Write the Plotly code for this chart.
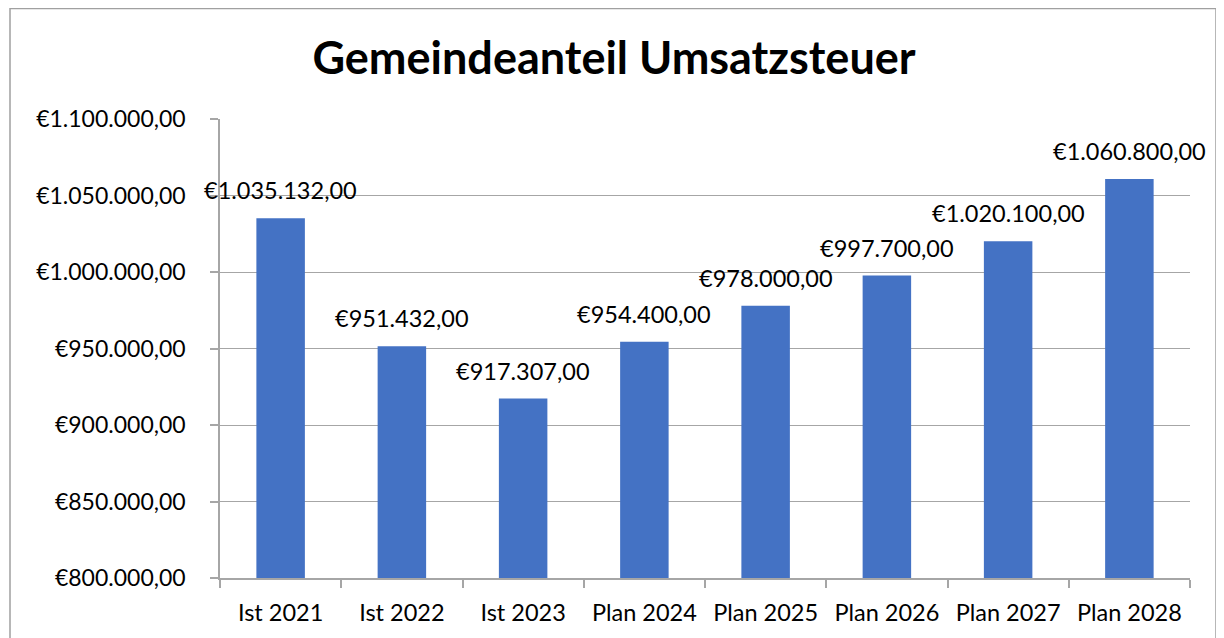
import plotly.graph_objects as go

categories = ["Ist 2021", "Ist 2022", "Ist 2023", "Plan 2024", "Plan 2025", "Plan 2026", "Plan 2027", "Plan 2028"]
values = [1035132, 951432, 917307, 954400, 978000, 997700, 1020100, 1060800]
y_ticks = [800000, 850000, 900000, 950000, 1000000, 1050000, 1100000]


def de_eur(v):
    s = f"{v:,.2f}".replace(",", "X").replace(".", ",").replace("X", ".")
    return "€" + s


FONT = "Lato"
BLUE = "#4472C4"
GRID = "#A6A6A6"

# page is offset by the 8px body margin
W, H = 1224, 638
L, R, T, B = 212, 42, 111, 68
pw = W - L - R
ph = H - T - B

fig = go.Figure(go.Bar(
    x=categories, y=values,
    marker=dict(color=BLUE, line=dict(width=0)),
    width=0.4,
    hoverinfo="x+y",
))

annotations = [
    dict(x=c, y=v, xref="x", yref="y", text=de_eur(v), showarrow=False,
         yanchor="bottom", xanchor="center", yshift=12,
         font=dict(family=FONT, size=23.5, color="#000000"))
    for c, v in zip(categories, values)
]

fig.update_layout(
    width=W, height=H,
    margin=dict(l=L, r=R, t=T, b=B),
    paper_bgcolor="white", plot_bgcolor="white",
    showlegend=False,
    title=dict(text="<b>Gemeindeanteil Umsatzsteuer</b>", x=(614 - 8) / W, xanchor="center",
               y=1 - (58 - 8) / H, yanchor="middle", yref="container",
               font=dict(family=FONT, size=45, color="#000000")),
    font=dict(family=FONT, size=23, color="#000000"),
    xaxis=dict(range=[-0.5, len(categories) - 0.5], autorange=False,
               showline=True, linecolor=GRID, linewidth=1.5, ticks="outside", tickson="boundaries",
               ticklen=8, tickcolor=GRID, tickwidth=1.5, showgrid=False, ticklabelstandoff=13,
               tickfont=dict(family=FONT, size=23.5, color="#000000")),
    yaxis=dict(range=[800000, 1100000], autorange=False, tickvals=y_ticks,
               ticktext=[de_eur(v) for v in y_ticks],
               showline=True, linecolor=GRID, linewidth=1.5, ticks="outside", ticklen=8,
               tickcolor=GRID, tickwidth=1.5, showgrid=True, gridcolor=GRID, gridwidth=1.2,
               zeroline=False, ticklabelstandoff=20,
               tickfont=dict(family=FONT, size=23, color="#000000")),
    annotations=annotations,
    shapes=[dict(type="rect", xref="paper", yref="paper",
                 x0=(2 - L) / pw, x1=(1208 - L) / pw,
                 y0=(H - B - 660) / ph, y1=(H - B - 0.5) / ph,
                 line=dict(color="#A0A0A0", width=1.5), fillcolor="rgba(0,0,0,0)", layer="below")],
)

fig.write_html("out.html")
